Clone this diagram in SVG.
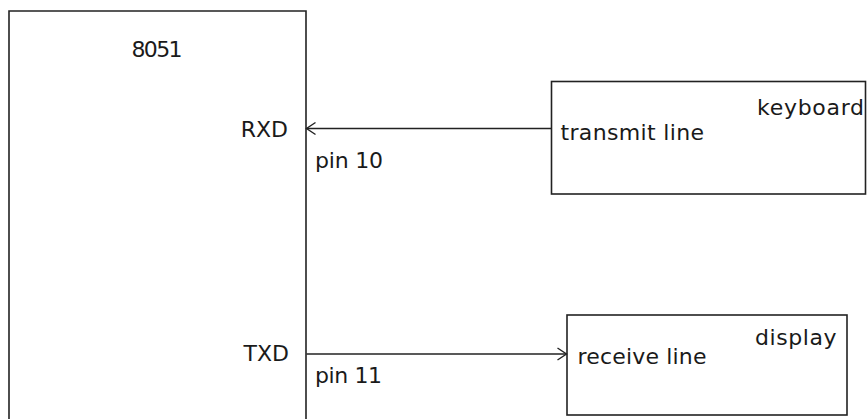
<svg xmlns="http://www.w3.org/2000/svg" width="867" height="419" viewBox="0 0 867 419">
<style>
.box{fill:#fff;stroke:#222;stroke-width:1.6}
.t{font-family:"DejaVu Sans",sans-serif;font-size:22px;fill:#1a1a1a}
.ln{stroke:#222;stroke-width:1.6;fill:none}
</style>
<defs>
<marker id="ah" markerWidth="12" markerHeight="16" refX="10" refY="7" orient="auto" markerUnits="userSpaceOnUse">
<path d="M1,1 L10,7 L1,13" fill="none" stroke="#222" stroke-width="1.4"/>
</marker>
</defs>
<rect width="867" height="419" fill="#fff"/>
<g id="n8051">
<path class="box" d="M9,425 V11 H306 V425"/>
<text class="t" x="131.5" y="57" textLength="51" lengthAdjust="spacing">8051</text>
<text class="t" x="288" y="137" text-anchor="end">RXD</text>
<text class="t" x="289" y="361" text-anchor="end">TXD</text>
</g>
<g id="keyboard">
<rect class="box" x="551.5" y="81.5" width="314" height="112.5"/>
<text class="t" x="560.5" y="140" textLength="143.5" lengthAdjust="spacing">transmit line</text>
<text class="t" x="757" y="115" textLength="107" lengthAdjust="spacing">keyboard</text>
</g>
<g id="display">
<rect class="box" x="567" y="315" width="280" height="100"/>
<text class="t" x="577.5" y="364" textLength="129" lengthAdjust="spacing">receive line</text>
<text class="t" x="755" y="345" textLength="81.5" lengthAdjust="spacing">display</text>
</g>
<g id="connectors">
<line class="ln" x1="551.5" y1="128.5" x2="306.5" y2="128.5" marker-end="url(#ah)"/>
<text class="t" x="315" y="168" textLength="68" lengthAdjust="spacing">pin 10</text>
<line class="ln" x1="306.5" y1="354" x2="566.5" y2="354" marker-end="url(#ah)"/>
<text class="t" x="315" y="383" textLength="67" lengthAdjust="spacing">pin 11</text>
</g>
</svg>
